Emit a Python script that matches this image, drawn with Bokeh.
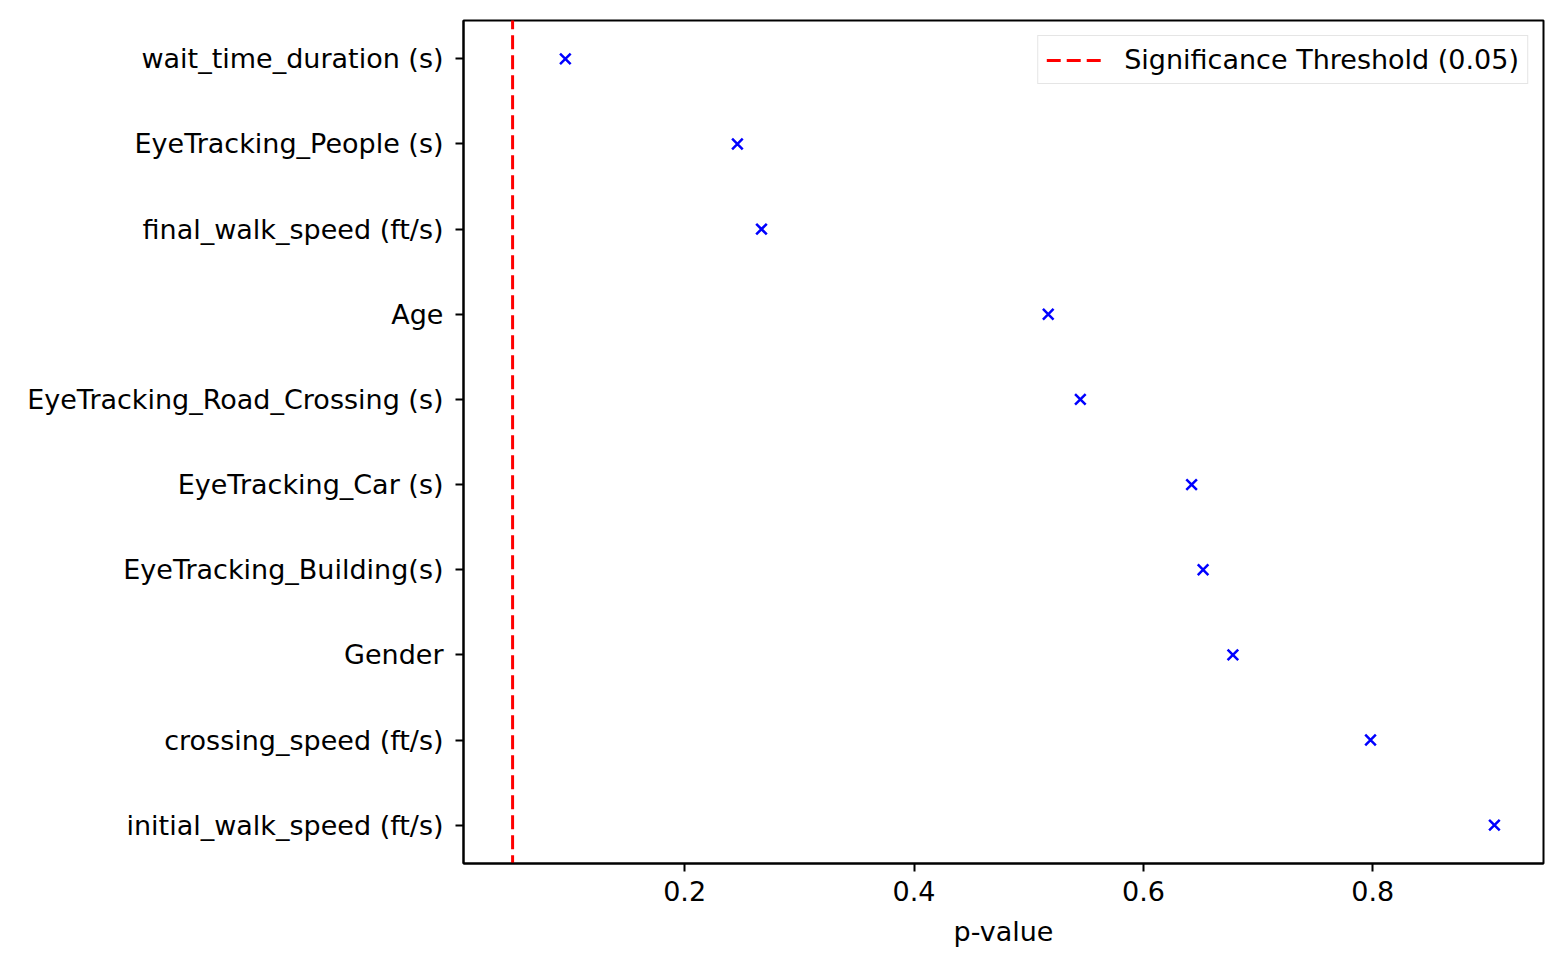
from bokeh.plotting import figure
from bokeh.models import Legend, LegendItem, FixedTicker, ColumnDataSource, Range1d
from bokeh.embed import file_html
from bokeh.resources import INLINE

features = ["wait_time_duration (s)", "EyeTracking_People (s)", "final_walk_speed (ft/s)",
            "Age", "EyeTracking_Road_Crossing (s)", "EyeTracking_Car (s)",
            "EyeTracking_Building(s)", "Gender", "crossing_speed (ft/s)", "initial_walk_speed (ft/s)"]
p_values = [0.096, 0.246, 0.267, 0.517, 0.545, 0.642, 0.652, 0.678, 0.798, 0.906]
threshold = 0.05
x_ticks = [0.2, 0.4, 0.6, 0.8]

FONT = "DejaVu Sans"
FS = "27px"

positions = list(range(len(features)))
src = ColumnDataSource(dict(x=p_values, y=positions, name=features))

xmin = min(min(p_values), threshold)
xmax = max(p_values)
pad = (xmax - xmin) * 0.05
y_lo = -0.45
y_hi = len(features) - 1 + 0.45

p = figure(width=1554, height=958, output_backend="svg", toolbar_location=None,
           x_range=Range1d(xmin - pad, xmax + pad),
           y_range=Range1d(y_hi, y_lo),
           min_border_left=463, min_border_right=11, min_border_top=20, min_border_bottom=95)
p.frame_width = 1080
p.frame_height = 843

thr = p.line(x=[threshold, threshold], y=[y_lo - 1, y_hi + 1], line_color="red",
             line_dash="14 6", line_width=3)
p.scatter("x", "y", source=src, marker="x", size=15, line_color="blue", line_width=2.5)

legend = Legend(items=[LegendItem(label=f"Significance Threshold ({threshold})", renderers=[thr])],
                location="top_right", label_text_font=FONT, label_text_font_size=FS,
                label_text_color="black",
                border_line_color="#cccccc", border_line_width=1.5, background_fill_alpha=0.8,
                glyph_width=57, label_standoff=21, margin=15, padding=8, spacing=0)
p.add_layout(legend)

p.xgrid.visible = False
p.ygrid.visible = False
p.outline_line_color = "black"
p.outline_line_width = 2

p.xaxis.ticker = FixedTicker(ticks=x_ticks)
p.xaxis.axis_label = "p-value"
p.yaxis.ticker = FixedTicker(ticks=positions)
p.yaxis.major_label_overrides = {i: f for i, f in enumerate(features)}

for ax in (p.xaxis, p.yaxis):
    ax.major_label_text_font = FONT
    ax.major_label_text_font_size = FS
    ax.major_label_text_color = "black"
    ax.axis_label_text_font = FONT
    ax.axis_label_text_font_size = FS
    ax.axis_label_text_font_style = "normal"
    ax.axis_label_text_color = "black"
    ax.axis_line_color = "black"
    ax.axis_line_width = 2
    ax.major_tick_line_color = "black"
    ax.major_tick_line_width = 2
    ax.major_tick_out = 8
    ax.major_tick_in = 0
    ax.minor_tick_line_color = None

p.yaxis.major_label_standoff = 12
p.xaxis.major_label_standoff = 9
p.xaxis.axis_label_standoff = 12

open("out.html", "w").write(file_html(p, INLINE))
